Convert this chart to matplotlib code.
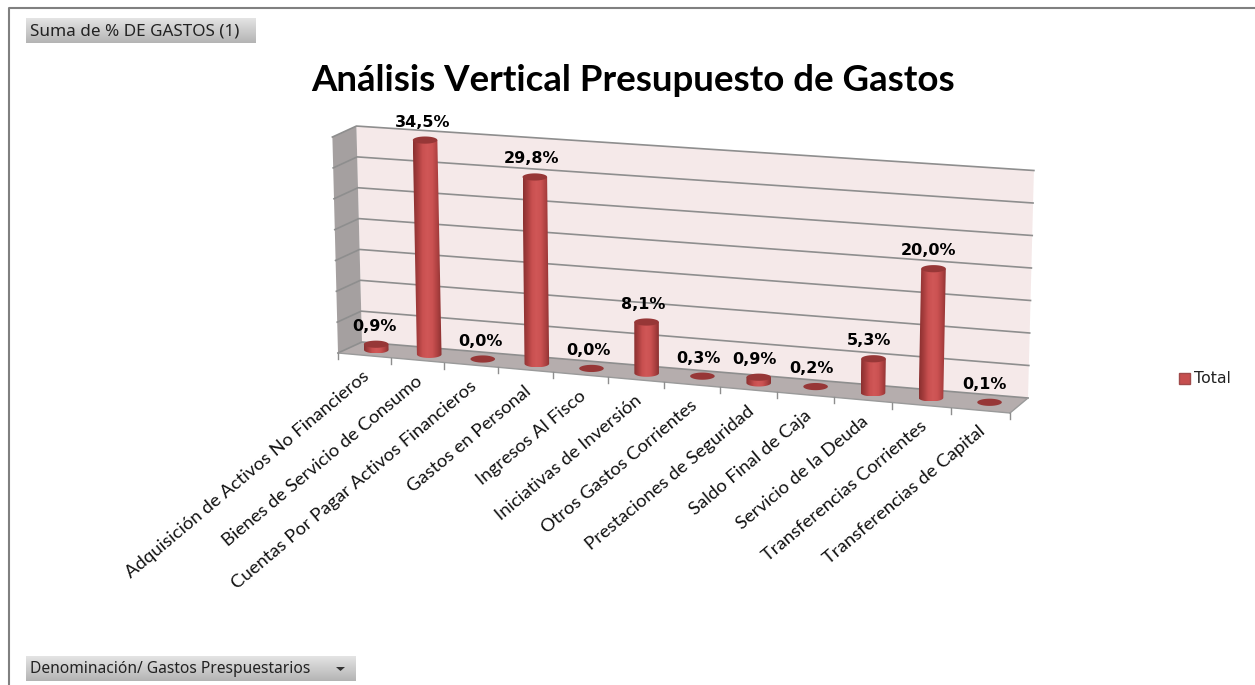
import numpy as np
import matplotlib
matplotlib.use("Agg")
import matplotlib.pyplot as plt
from matplotlib.colors import LinearSegmentedColormap
from matplotlib.patches import Polygon, Rectangle

# Datos del grafico
categorias = [
    "Adquisición de Activos No Financieros",
    "Bienes de Servicio de Consumo",
    "Cuentas Por Pagar Activos Financieros",
    "Gastos en Personal",
    "Ingresos Al Fisco",
    "Iniciativas de Inversión",
    "Otros Gastos Corrientes",
    "Prestaciones de Seguridad",
    "Saldo Final de Caja",
    "Servicio de la Deuda",
    "Transferencias Corrientes",
    "Transferencias de Capital",
]
valores = [0.9, 34.5, 0.0, 29.8, 0.0, 8.1, 0.3, 0.9, 0.2, 5.3, 20.0, 0.1]
niveles = [0, 5, 10, 15, 20, 25, 30, 35]
titulo = "Análisis Vertical Presupuesto de Gastos"

n = len(categorias)
cmap_barra = LinearSegmentedColormap.from_list(
    "barra", ["#8a3030", "#a83e3e", "#c95050", "#d05757", "#cb5252", "#b04242", "#8c3131"])
cmap_boton = LinearSegmentedColormap.from_list("boton", ["#e4e4e4", "#b4b4b4"])


def proyectar(p, d, v):
    # p: posicion de categoria, d: profundidad (0 frente, 1 fondo), v: valor en %
    t = (p + 0.5) / n
    g = t - 0.06 * t * (1 - t)  # perspectiva: las categorias se abren hacia la derecha
    x = (338 + 672 * g) * (1 - d) + (362 + 666 * g) * d
    y = (353 + 60 * g) * (1 - d) + (342 + 56 * g) * d
    alto = v * (6.17 + 0.33 * t)
    return x + alto * 0.052 * (t - 0.5), y - alto


def elipse(cx, cy, rx, ry, a, b):
    ang = np.radians(np.linspace(a, b, 40))
    return np.column_stack([cx + rx * np.cos(ang), cy + ry * np.sin(ang)])


def dibujar_barra(ax, i, v):
    bx, by = proyectar(i, 0.5, 0)
    tx, ty = proyectar(i, 0.5, v)
    rx, ry = 12.3, 3.6
    if v >= 0.5:
        # eje y invertido: sin(0..180) es la mitad inferior de la elipse
        contorno = np.vstack([elipse(bx, by, rx, ry, 0, 180), [[tx - rx, ty], [tx + rx, ty]]])
        img = ax.imshow(np.linspace(0, 1, 64)[None, :], cmap=cmap_barra, aspect="auto",
                        extent=[min(bx, tx) - rx, max(bx, tx) + rx, by + ry, ty], zorder=4)
        img.set_clip_path(Polygon(contorno, transform=ax.transData))
    ax.add_patch(Polygon(elipse(tx, ty, rx, ry, 0, 360), fc="#973737", ec="none", zorder=5))
    ax.text(tx - 2 - 0.3 * i, ty - 18, f"{v:.1f}".replace(".", ",") + "%", ha="center", va="center",
            fontsize=11.5, fontweight="bold", color="black", family="DejaVu Sans", zorder=6)


def dibujar_boton(ax, x0, y0, x1, y1, texto, tam):
    ax.imshow(np.linspace(0, 1, 32)[:, None], cmap=cmap_boton, aspect="auto",
              extent=[x0, x1, y1, y0], zorder=2)
    ax.text(x0 + 4, (y0 + y1) / 2 + 0.5, texto, ha="left", va="center", fontsize=tam,
            color="#222222", family="Noto Sans", zorder=3)


def main():
    fig = plt.figure(figsize=(12.55, 6.85), dpi=100)
    ax = fig.add_axes([0, 0, 1, 1])

    # Marco exterior
    ax.plot([9, 9, 1255], [685, 8, 8], color="#808080", lw=1.5, zorder=1)

    # Paredes y piso
    tope = niveles[-1]
    pared = [proyectar(-0.5, 1, 0), proyectar(-0.5, 1, tope),
             proyectar(n - 0.5, 1, tope), proyectar(n - 0.5, 1, 0)]
    lateral = [proyectar(-0.5, 0, 0), proyectar(-0.5, 0, tope),
               proyectar(-0.5, 1, tope), proyectar(-0.5, 1, 0)]
    piso = [proyectar(-0.5, 0, 0), proyectar(-0.5, 1, 0),
            proyectar(n - 0.5, 1, 0), proyectar(n - 0.5, 0, 0)]
    ax.add_patch(Polygon(pared, fc="#f5e9e9", ec="none", zorder=1))
    ax.add_patch(Polygon(lateral, fc="#a5a0a0", ec="none", zorder=1))
    ax.add_patch(Polygon(piso, fc="#b5adad", ec="none", zorder=2))

    for v in niveles:
        a = proyectar(-0.5, 0, v)
        b = proyectar(-0.5, 1, v)
        c = proyectar(n - 0.5, 1, v)
        ax.plot([a[0], b[0], c[0]], [a[1], b[1], c[1]], color="#8e8e8e", lw=1.2, zorder=3)

    # Linea frontal, marcas y etiquetas de categoria
    a = proyectar(-0.5, 0, 0)
    b = proyectar(n - 0.5, 0, 0)
    ax.plot([a[0], b[0]], [a[1], b[1]], color="#9a9a9a", lw=1.0, zorder=3)
    ax.plot([b[0], proyectar(n - 0.5, 1, 0)[0]], [b[1], proyectar(n - 0.5, 1, 0)[1]],
            color="#9a9a9a", lw=1.0, zorder=3)
    for k in range(n + 1):
        x, y = proyectar(k - 0.5, 0, 0)
        ax.plot([x, x], [y, y + 6], color="#8e8e8e", lw=1.0, zorder=3)
    for i, cat in enumerate(categorias):
        x, y = proyectar(i, 0, 0)
        ax.text(x + 3, y + 19, cat, rotation=40, rotation_mode="anchor", ha="right", va="center",
                fontsize=13.3, color="#111111", family="Lato")

    # Barras
    for i, v in enumerate(valores):
        dibujar_barra(ax, i, v)

    # Titulo, botones y leyenda
    ax.text(633, 80, titulo, ha="center", va="center", fontsize=26.4, fontweight="bold",
            color="black", family="Lato")
    dibujar_boton(ax, 26, 18, 256, 43, "Suma de % DE GASTOS (1)", 12.3)
    dibujar_boton(ax, 26, 656, 356, 681, "Denominación/ Gastos Prespuestarios", 11.2)
    ax.add_patch(Polygon([[336, 667], [345, 667], [340.5, 671]], fc="#333333", ec="none", zorder=3))
    ax.add_patch(Rectangle((1179, 373), 11, 11, fc="#c64e4e", ec="#a04a4a", lw=1, zorder=3))
    ax.text(1194, 378.5, "Total", ha="left", va="center", fontsize=11.3, color="#222222",
            family="DejaVu Sans")

    ax.set_xlim(0, 1255)
    ax.set_ylim(685, 0)
    ax.axis("off")
    fig.savefig("out.png", dpi=100)


if __name__ == "__main__":
    main()
